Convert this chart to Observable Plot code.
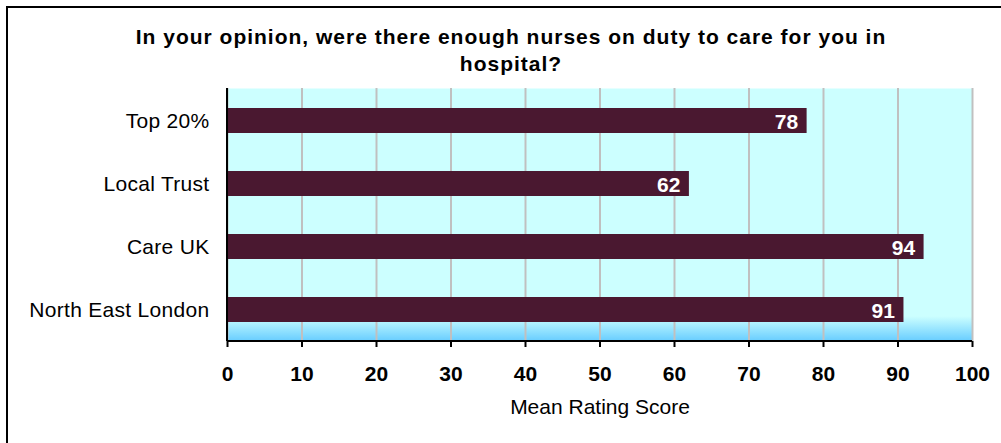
<!DOCTYPE html>
<html>
<head>
<meta charset="utf-8">
<script src="https://cdn.jsdelivr.net/npm/d3@7"></script>
<script src="https://cdn.jsdelivr.net/npm/@observablehq/plot@0.6"></script>
<style>
  html, body { margin: 0; padding: 0; background: white; overflow: hidden; }
</style>
</head>
<body>
<div id="chart"></div>
<script>
const categories = ["Top 20%", "Local Trust", "Care UK", "North East London"];
const values = [77.8, 62.0, 93.5, 90.8];
const valueLabels = ["78", "62", "94", "91"];
const xTicks = [0, 10, 20, 30, 40, 50, 60, 70, 80, 90, 100];
const titleText = "In your opinion, were there enough nurses on duty to care for you in\nhospital?";
const xLabel = "Mean Rating Score";

const data = categories.map((c, i) => ({cat: c, value: values[i], label: valueLabels[i]}));

const defsMark = () => {
  const g = d3.create("svg:g");
  const grad = g.append("defs").append("linearGradient")
    .attr("id", "bgGrad").attr("x1", 0).attr("y1", 0).attr("x2", 0).attr("y2", 1);
  grad.append("stop").attr("offset", "0%").attr("stop-color", "#ccffff");
  grad.append("stop").attr("offset", "90%").attr("stop-color", "#ccffff");
  grad.append("stop").attr("offset", "100%").attr("stop-color", "#66ccff");
  return g.node();
};

const axisLines = (index, scales, values, dims) => {
  const g = d3.create("svg:g");
  const left = dims.marginLeft, right = dims.width - dims.marginRight;
  const top = dims.marginTop, bottom = dims.height - dims.marginBottom;
  g.append("line").attr("x1", left).attr("x2", right).attr("y1", bottom).attr("y2", bottom)
    .attr("stroke", "black").attr("stroke-width", 2);
  g.append("line").attr("x1", left).attr("x2", left).attr("y1", top).attr("y2", bottom)
    .attr("stroke", "black").attr("stroke-width", 2);
  // outer chart border (only top/left visible in the cropped reference)
  g.append("rect").attr("x", 7).attr("y", 7).attr("width", 1020).attr("height", 460)
    .attr("fill", "none").attr("stroke", "black").attr("stroke-width", 2);
  return g.node();
};

const chart = Plot.plot({
  width: 1001,
  height: 443,
  marginLeft: 227,
  marginRight: 29,
  marginTop: 88,
  marginBottom: 102,
  style: {fontFamily: "'Liberation Sans', Arial, sans-serif", background: "white", overflow: "visible", color: "black"},
  x: {domain: [0, 100], label: null},
  y: {domain: categories, paddingInner: 0.605, paddingOuter: 0.3025, label: null},
  marks: [
    defsMark,
    Plot.frame({fill: "url(#bgGrad)", stroke: "none"}),
    Plot.gridX(xTicks, {stroke: "#c0c0c0", strokeOpacity: 1, strokeWidth: 2}),
    Plot.barX(data, {x: "value", y: "cat", fill: "#4a1830"}),
    Plot.text(data, {x: "value", y: "cat", text: "label", textAnchor: "end", dx: -9, dy: 1,
      fill: "white", fontWeight: "bold", fontSize: 21}),
    Plot.axisX({ticks: xTicks, tickSize: 6, tickPadding: 19, fontSize: 21, fontWeight: "bold",
      strokeWidth: 2, label: null}),
    Plot.axisY({tickSize: 0, tickPadding: 18, fontSize: 21, label: null}),
    axisLines,
    Plot.text([xLabel], {frameAnchor: "bottom", dy: 72, text: d => d, fontSize: 21}),
    Plot.text([titleText], {frameAnchor: "top", dx: -89, dy: -64, text: d => d, lineAnchor: "top",
      lineHeight: 1.29, fontSize: 21, fontWeight: "bold"})
  ]
});

d3.select(chart).selectAll("text").each(function() {
  const t = this.textContent;
  if (t.includes("opinion")) d3.select(this).style("letter-spacing", "1px");
});
d3.select(chart).selectAll("g[aria-label='y-axis tick label'] text").style("letter-spacing", "0.3px");

document.getElementById("chart").append(chart);
</script>
</body>
</html>
